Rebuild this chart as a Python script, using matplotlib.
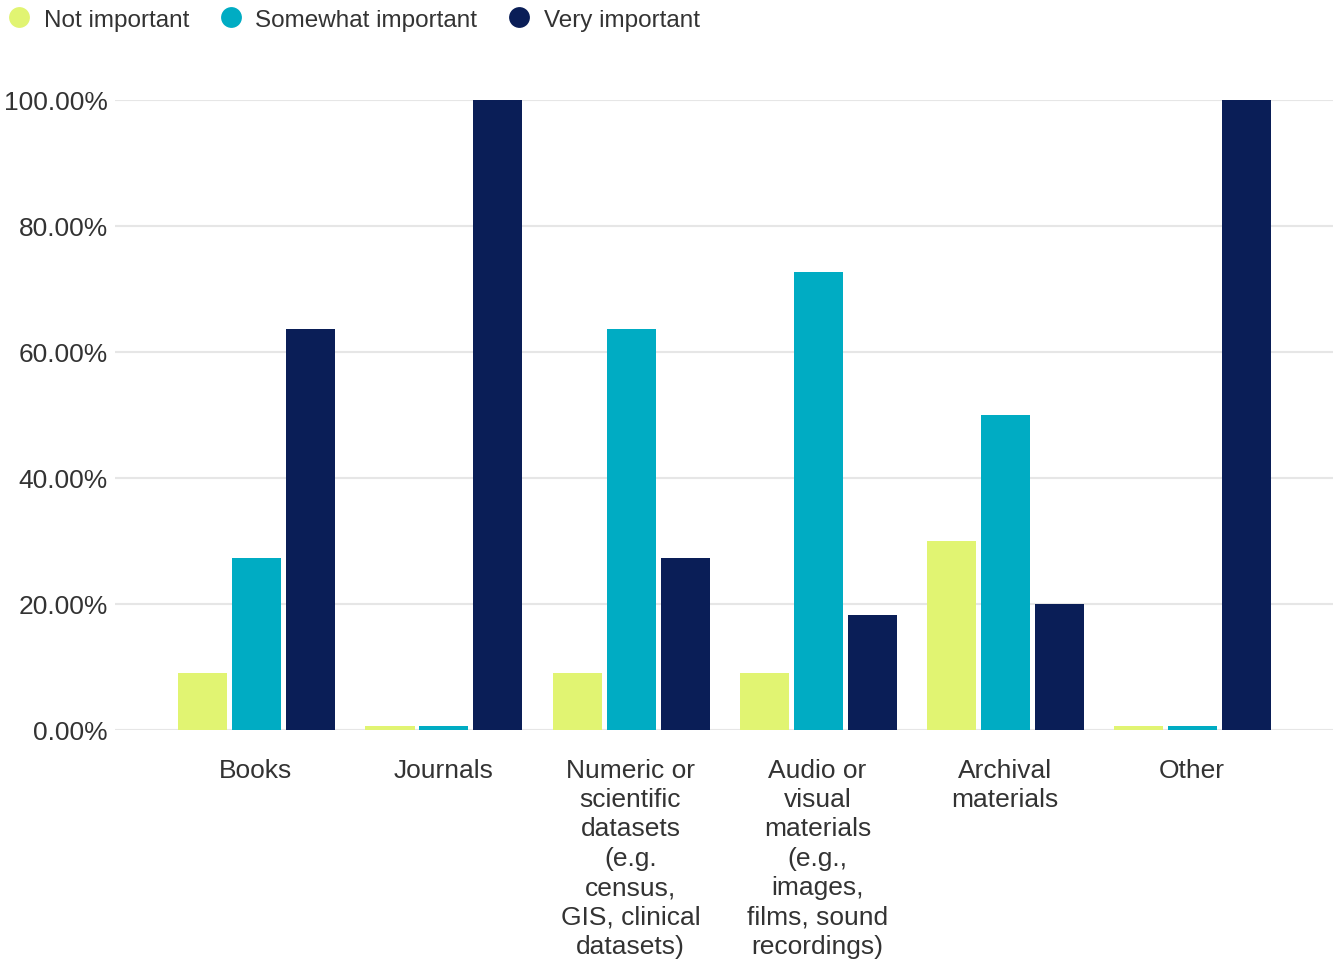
import matplotlib.pyplot as plt
import numpy as np
from matplotlib.lines import Line2D

plt.rcParams['font.family'] = ['Liberation Sans', 'DejaVu Sans']

categories = ['Books', 'Journals',
              'Numeric or\nscientific\ndatasets\n(e.g.\ncensus,\nGIS, clinical\ndatasets)',
              'Audio or\nvisual\nmaterials\n(e.g.,\nimages,\nfilms, sound\nrecordings)',
              'Archival\nmaterials', 'Other']
series = ['Not important', 'Somewhat important', 'Very important']
not_important = [9.09, 0.0, 9.09, 9.09, 30.0, 0.0]
somewhat_important = [27.27, 0.0, 63.64, 72.73, 50.0, 0.0]
very_important = [63.64, 100.0, 27.27, 18.18, 20.0, 100.0]
colors = ['#e1f472', '#00acc3', '#0a1e57']

fig = plt.figure(figsize=(13.38, 9.62), dpi=100)
ax = fig.add_axes([115 / 1338, 231 / 962, 1218 / 1338, 630 / 962])

x = np.arange(len(categories))
width = 0.262
step = 0.288
min_h = 0.6  # zero values still show as a thin sliver
for i, (vals, col) in enumerate(zip([not_important, somewhat_important, very_important], colors)):
    h = [max(v, min_h) for v in vals]
    ax.bar(x + (i - 1) * step + 0.004, h, width, color=col, edgecolor='none', zorder=3)

ax.set_xlim(-0.753, 5.753)
ax.set_ylim(0, 100)
ax.set_yticks([0, 20, 40, 60, 80, 100])
ax.set_yticklabels([f'{v:.2f}%' for v in [0, 20, 40, 60, 80, 100]])
ax.set_xticks(x)
ax.set_xticklabels(categories, linespacing=1.28)
ax.tick_params(axis='both', length=0, labelsize=19, colors='#333333')
ax.tick_params(axis='y', pad=5)
ax.tick_params(axis='x', pad=20)
ax.grid(axis='y', color='#e6e6e6', linewidth=1.5, zorder=0)
for s in ax.spines.values():
    s.set_visible(False)

handles = [Line2D([], [], marker='o', linestyle='none', markersize=15,
                  markerfacecolor=c, markeredgecolor='none') for c in colors]
fig.legend(handles, series, loc='upper left', bbox_to_anchor=(-0.002, 1.0),
           ncol=3, frameon=False, fontsize=17.5, handletextpad=0.5,
           columnspacing=1.23, borderaxespad=0, handlelength=1.0,
           labelcolor='#333333')

plt.savefig('out.png', dpi=100)
